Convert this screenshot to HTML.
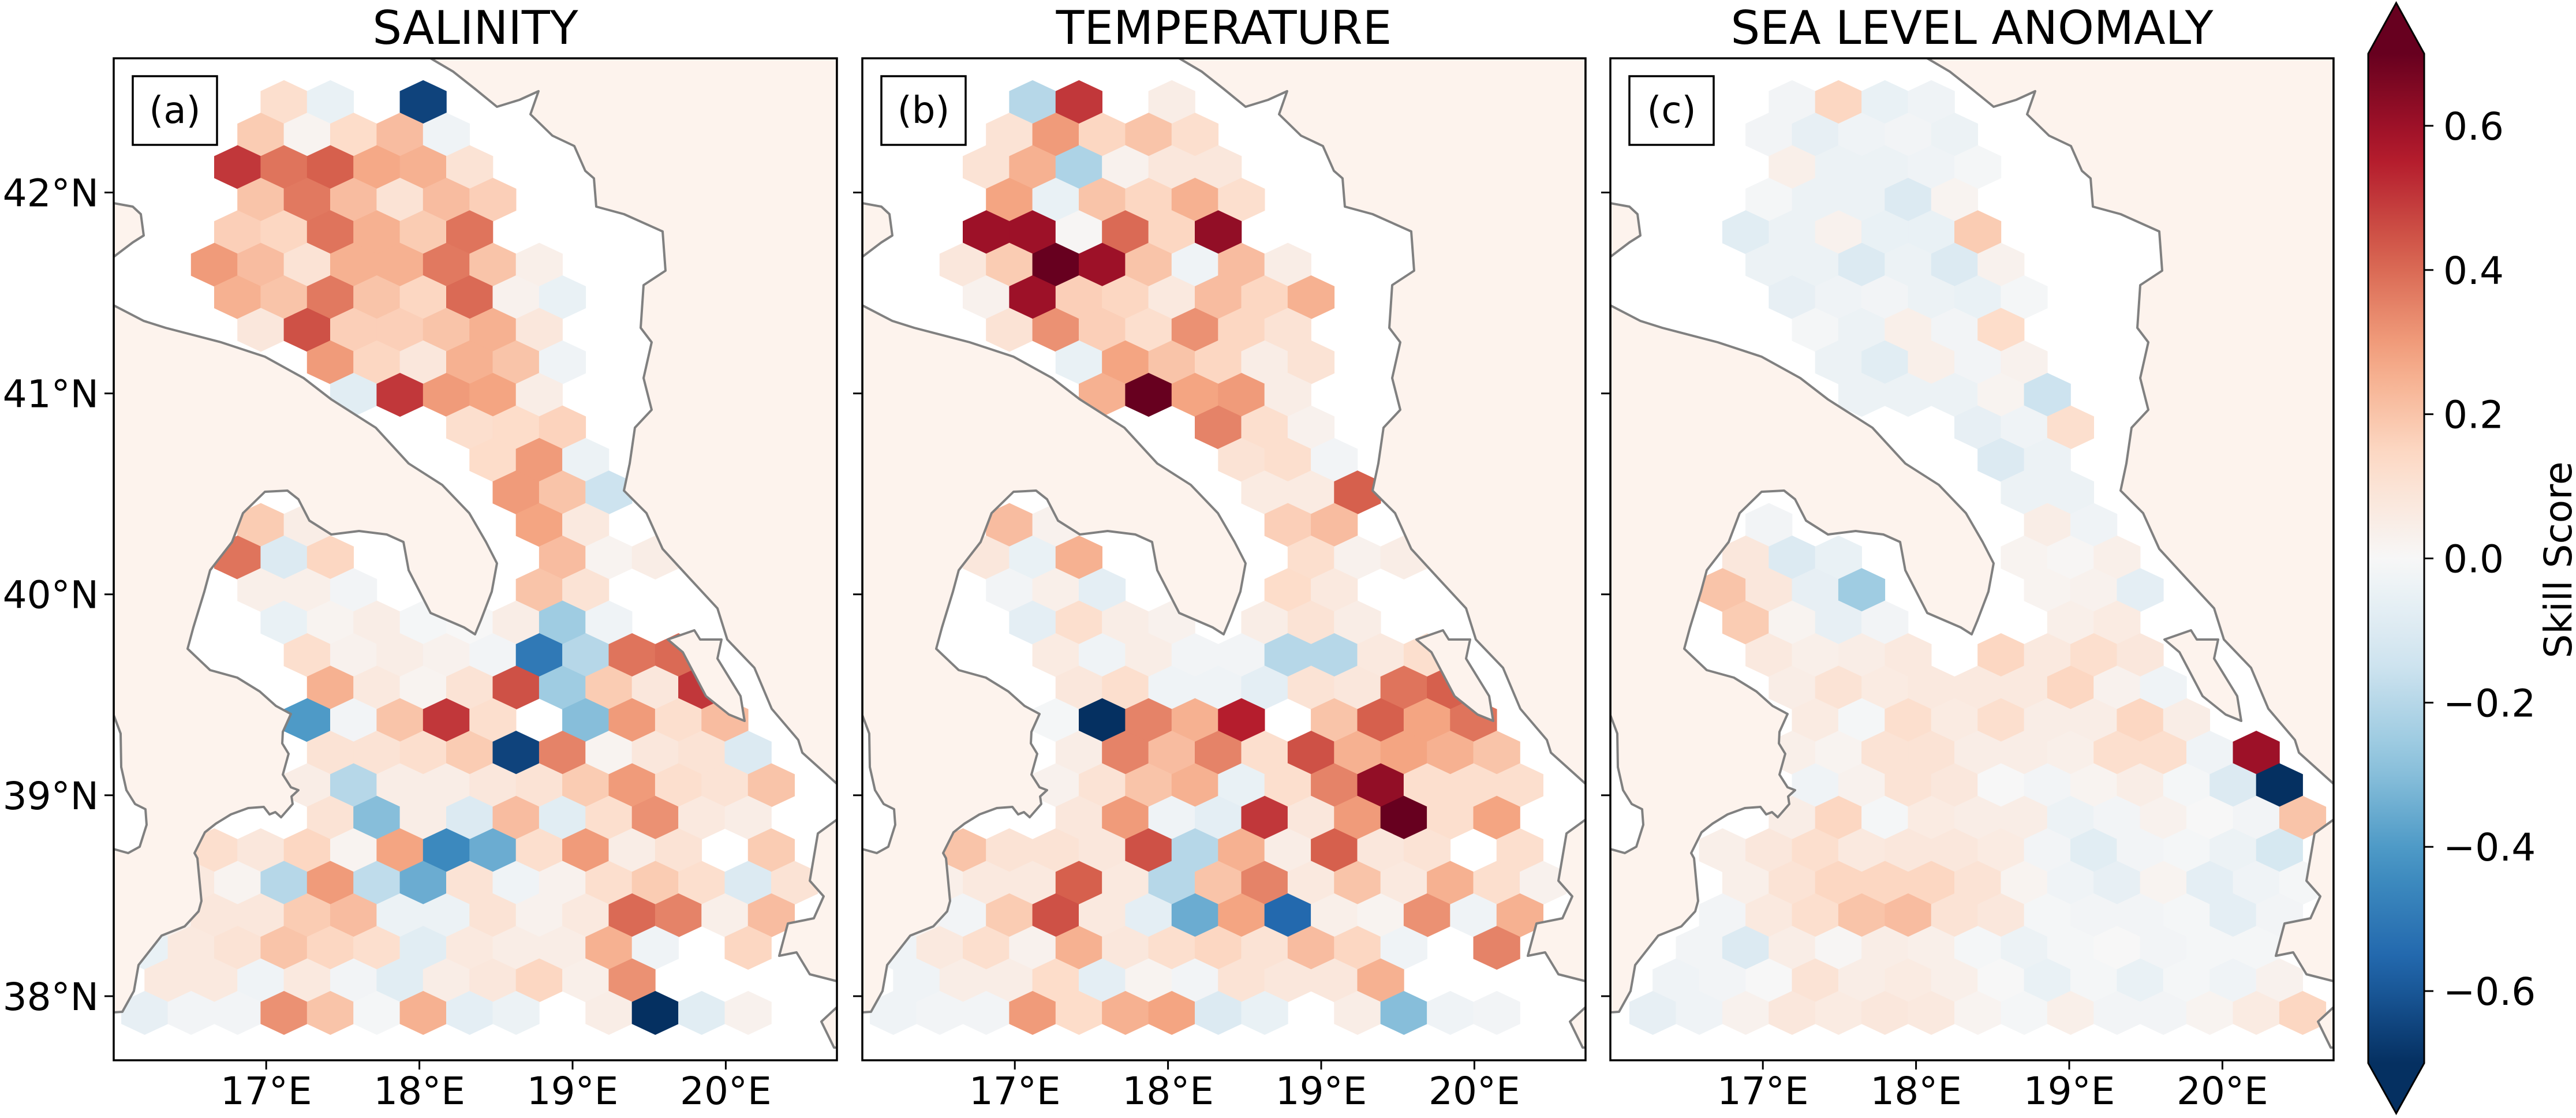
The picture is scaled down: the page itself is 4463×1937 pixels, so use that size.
<!DOCTYPE html>
<html><head><meta charset="utf-8">
<style>
html,body{margin:0;padding:0;background:#fff;}
svg{display:block;font-family:"DejaVu Sans","Liberation Sans",sans-serif;}
</style></head>
<body>
<svg id="chart" width="4463" height="1937" viewBox="0 0 4463 1937" xmlns="http://www.w3.org/2000/svg"></svg>
<script>
const _ = null;
// ---------- data ----------
const panelTitles = ["SALINITY", "TEMPERATURE", "SEA LEVEL ANOMALY"];
const panelLetters = ["(a)", "(b)", "(c)"];
const lonTicks = [17, 18, 19, 20];
const lonTickLabels = ["17°E", "18°E", "19°E", "20°E"];
const latTicks = [42, 41, 40, 39, 38];
const latTickLabels = ["42°N", "41°N", "40°N", "39°N", "38°N"];
const cbarTicks = [0.6, 0.4, 0.2, 0.0, -0.2, -0.4, -0.6];
const cbarTickLabels = ["0.6", "0.4", "0.2", "0.0", "\u22120.2", "\u22120.4", "\u22120.6"];
const gridLon0 = [16.207, 16.207, 16.282];
const gridLat0 = 42.450;
const gridDLon = 0.303;
const gridDLat = 0.1619;

const salinity = [
[_,_,_,.12,-.05,_,-.65,_,_,_,_,_,_,_,_],
[_,_,_,.18,.02,.13,.22,-.03,_,_,_,_,_,_,_],
[_,_,.5,.38,.42,.27,.25,.1,_,_,_,_,_,_,_],
[_,_,_,.2,.37,.22,.1,.22,.17,_,_,_,_,_,_],
[_,_,.17,.15,.38,.25,.18,.38,_,_,_,_,_,_,_],
[_,_,.3,.22,.1,.25,.25,.37,.2,.04,_,_,_,_,_],
[_,_,.25,.2,.37,.2,.15,.4,.03,-.05,_,_,_,_,_],
[_,_,_,.08,.45,.17,.17,.2,.25,.08,_,_,_,_,_],
[_,_,_,_,.3,.15,.08,.25,.2,-.03,_,_,_,_,_],
[_,_,_,_,_,-.08,.5,.3,.28,.05,_,_,_,_,_],
[_,_,_,_,_,_,_,.12,.13,.16,_,_,_,_,_],
[_,_,_,_,_,_,_,_,.13,.3,-.04,_,_,_,_],
[_,_,_,_,_,_,_,_,.3,.2,-.15,_,_,_,_],
[_,_,_,.18,.05,_,_,_,_,.28,.07,_,_,_,_],
[_,_,.38,-.1,.15,_,_,_,_,.22,.02,.05,_,_,_],
[_,_,_,.04,.04,-.02,_,_,_,.2,.1,_,_,_,_],
[_,_,_,-.05,.02,.05,-.01,0,.05,-.25,-.03,_,_,_,_],
[_,_,_,_,.12,.03,.05,.03,-.02,-.5,-.2,.38,.4,_,_],
[_,_,_,_,.25,.07,.02,.1,.45,-.25,.18,.08,.5,_,_],
[_,_,_,_,-.4,-.02,.2,.5,.12,_,-.3,.3,.12,.22,_],
[_,_,_,_,.1,.1,.12,.18,-.65,.35,.02,.08,.1,-.1,_],
[_,_,_,_,.05,-.2,.05,.05,.08,.1,.18,.3,.12,.1,.2],
[_,_,_,_,.1,-.3,.05,-.1,.22,-.08,.12,.32,.07,.05,_],
[_,_,.12,.08,.15,.02,.28,-.45,-.35,.12,.3,.05,.1,_,.18],
[_,.07,.02,-.2,.3,-.18,-.35,.1,-.03,.03,.12,.18,.12,-.1,.1],
[_,.03,.08,.08,.18,.22,-.04,-.04,.1,.03,.07,.4,.35,.04,.22],
[-.05,.07,.1,.2,.15,.12,-.08,.07,.05,.05,.25,-.03,_,.15,_],
[_,.07,.07,-.03,.07,-.02,-.08,.05,.08,.15,.04,.32,_,_,_],
[-.06,-.02,-.02,.32,.2,-.01,.25,-.07,-.04,_,.05,-.7,-.08,.03,_]
];
const temperature = [
[_,_,_,-.2,.5,_,.05,_,_,_,_,_,_,_,_],
[_,_,_,.1,.3,.15,.2,.12,_,_,_,_,_,_,_],
[_,_,.1,.25,-.22,.03,.08,.08,_,_,_,_,_,_,_],
[_,_,_,.28,-.05,.2,.15,.25,.12,_,_,_,_,_,_],
[_,_,.6,.6,.01,.4,.15,.62,_,_,_,_,_,_,_],
[_,_,.08,.18,.7,.6,.2,-.03,.22,.05,_,_,_,_,_],
[_,_,.03,.6,.17,.15,.07,.22,.15,.25,_,_,_,_,_],
[_,_,_,.1,.32,.17,.12,.32,.15,.1,_,_,_,_,_],
[_,_,_,_,-.05,.28,.2,.15,.05,.1,_,_,_,_,_],
[_,_,_,_,_,.25,.72,.28,.3,.05,_,_,_,_,_],
[_,_,_,_,_,_,_,.35,.12,.03,_,_,_,_,_],
[_,_,_,_,_,_,_,_,.1,.12,-.02,_,_,_,_],
[_,_,_,_,_,_,_,_,.06,.06,.42,_,_,_,_],
[_,_,_,.22,.03,_,_,_,_,.17,.22,_,_,_,_],
[_,_,.08,-.05,.25,_,_,_,_,.12,.03,.05,_,_,_],
[_,_,_,-.02,.04,-.07,_,_,_,.13,.07,_,_,_,_],
[_,_,_,-.07,.12,.05,.03,_,.05,.1,.05,_,_,_,_],
[_,_,_,_,.06,-.03,.05,-.02,-.02,-.2,-.2,.07,.12,_,_],
[_,_,_,_,.08,.12,-.03,-.03,-.07,.1,.08,.38,.42,_,_],
[_,_,_,_,-.01,-.7,.35,.25,.55,_,.2,.42,.28,.38,_],
[_,_,_,_,.05,.35,.22,.35,.12,.45,.25,.28,.25,.2,_],
[_,_,_,_,.03,.1,.2,.25,-.05,.12,.35,.62,.12,.12,.12],
[_,_,_,_,.08,.3,-.03,-.07,.5,.08,.3,.7,.12,.28,_],
[_,_,.2,.1,.1,.08,.45,-.2,.25,.05,.42,.08,.1,_,.12],
[_,.04,.07,.07,.42,.07,-.2,.2,.35,.07,.2,.07,.25,.12,.03],
[_,.02,-.02,.18,.45,.07,-.07,-.35,.28,-.55,.04,.02,.32,-.03,.25],
[-.03,.07,.12,.03,.25,.08,.12,.15,.1,.22,.15,-.03,_,.35,_],
[_,-.03,.05,.05,.13,-.07,.02,-.02,.1,.08,.08,.25,_,_,_],
[-.03,-.02,-.02,.3,.13,.25,.28,-.1,-.05,_,.05,-.3,-.03,-.02,_]
];
const seaLevel = [
[_,_,_,-.02,.15,-.05,-.03,_,_,_,_,_,_,_,_],
[_,_,_,-.02,-.06,-.03,-.02,-.04,_,_,_,_,_,_,_],
[_,_,_,.04,-.04,-.04,-.03,-.01,_,_,_,_,_,_,_],
[_,_,_,-.01,-.04,-.04,-.1,.02,_,_,_,_,_,_,_],
[_,_,-.08,-.04,.03,-.05,-.05,.18,_,_,_,_,_,_,_],
[_,_,_,-.04,-.04,-.1,-.04,-.1,.03,_,_,_,_,_,_],
[_,_,_,-.06,-.03,-.02,-.04,-.05,-.01,_,_,_,_,_,_],
[_,_,_,_,-.01,-.04,.04,-.02,.13,_,_,_,_,_,_],
[_,_,_,_,-.04,-.08,.04,-.02,.03,_,_,_,_,_,_],
[_,_,_,_,_,-.04,-.04,-.04,.02,-.15,_,_,_,_,_],
[_,_,_,_,_,_,_,-.06,-.03,.12,_,_,_,_,_],
[_,_,_,_,_,_,_,_,-.1,-.04,_,_,_,_,_],
[_,_,_,_,_,_,_,_,-.04,-.04,_,_,_,_,_],
[_,_,_,-.02,_,_,_,_,_,.05,-.03,_,_,_,_],
[_,_,.08,-.1,-.05,_,_,_,.02,.01,.04,_,_,_,_],
[_,_,.2,.08,-.06,-.25,_,_,_,.02,.03,-.07,_,_,_],
[_,_,.18,.02,-.06,-.02,_,_,_,.04,.06,_,_,_,_],
[_,_,_,.07,.04,.05,.07,_,.15,.07,.12,.08,_,_,_],
[_,_,_,.05,.1,.06,.07,.07,.07,.15,.03,-.03,_,_,_],
[_,_,_,_,.06,-.01,.12,.06,.12,.05,.05,.15,.05,_,_],
[_,_,_,.04,.02,.1,.1,.05,.05,.04,.12,.12,-.03,.6,_],
[_,_,_,_,-.03,.03,.1,.08,0,-.02,.02,.05,-.01,-.1,-.7],
[_,_,_,.05,.15,-.01,.06,.05,.05,-.04,-.02,.03,0,-.02,.2],
[_,_,.04,.08,.12,.07,.08,.08,.06,-.02,-.08,-.02,-.01,-.04,-.12],
[_,_,.04,.1,.15,.15,.15,.1,.02,-.03,-.06,.02,-.07,-.03,-.01],
[_,_,-.02,.07,.12,.2,.22,.1,.08,-.01,-.02,-.02,-.01,-.07,-.02],
[_,-.02,-.1,.05,.01,.05,.04,-.01,-.04,-.01,0,-.02,-.01,-.01,_],
[_,-.03,-.02,0,.1,.05,.06,.04,0,-.05,-.01,-.05,-.01,-.03,.03],
[-.06,-.03,.03,.08,.06,.08,.07,.02,-.01,.04,-.02,-.02,.02,.06,.15]
];
const panelData = [salinity, temperature, seaLevel];

// ---------- geometry ----------
const NS = "http://www.w3.org/2000/svg";
const svg = document.getElementById("chart");
const panelLeft = [197, 1494, 2790];
const axTop = 101, axW = 1253, axH = 1736;
const lonMin = 16.0045, lonPx = 265.4, latMax = 42.668, latPx = 348.1;
const vmin = -0.7, vmax = 0.7;
function xScale(p, lon){ return panelLeft[p] + (lon - lonMin) * lonPx; }
function yScale(lat){ return axTop + (latMax - lat) * latPx; }

const rdbu = ["#053061","#2166ac","#4393c3","#92c5de","#d1e5f0","#f7f7f7","#fddbc7","#f4a582","#d6604d","#b2182b","#67001f"];
function hex2rgb(h){ return [parseInt(h.substr(1,2),16),parseInt(h.substr(3,2),16),parseInt(h.substr(5,2),16)]; }
function cmap(v){
  let t = (v - vmin) / (vmax - vmin); t = Math.max(0, Math.min(1, t));
  const s = t * (rdbu.length - 1); const i = Math.min(Math.floor(s), rdbu.length - 2); const f = s - i;
  const a = hex2rgb(rdbu[i]), b = hex2rgb(rdbu[i+1]);
  return "rgb(" + a.map((c,k)=>Math.round(c + (b[k]-c)*f)).join(",") + ")";
}
function mk(tag, attrs, parent){
  const e = document.createElementNS(NS, tag);
  for (const k in attrs) e.setAttribute(k, attrs[k]);
  (parent || svg).appendChild(e); return e;
}

// coastline (geography background, panel-a pixel frame)
const landPolys = [
 [[197,529],[249,556],[287,568],[383,593],[459,618],[526,655],[574,692],[651,741],[708,803],[766,840],[813,889],[842,939],[861,976],[852,1025],[833,1075],[823,1099],[804,1087],[746,1062],[708,988],[699,939],[670,926],[622,920],[574,926],[536,902],[517,865],[498,850],[459,852],[421,889],[402,939],[364,988],[354,1025],[335,1087],[325,1124],[364,1161],[411,1174],[450,1198],[478,1223],[504,1237],[490,1268],[489,1288],[500,1306],[490,1342],[504,1364],[517,1369],[505,1380],[507,1393],[487,1416],[477,1407],[467,1411],[457,1398],[430,1400],[400,1411],[374,1427],[355,1442],[337,1478],[342,1487],[349,1561],[344,1579],[320,1605],[280,1621],[240,1672],[232,1717],[212,1753],[197,1754],[197,1471],[222,1478],[242,1467],[254,1429],[252,1402],[234,1393],[219,1369],[210,1329],[209,1271],[197,1239]],
 [[197,352],[230,358],[244,371],[249,408],[230,420],[197,445]],
 [[746,101],[785,124],[823,154],[861,185],[900,173],[933,158],[919,198],[957,235],[995,253],[1014,296],[1029,309],[1033,358],[1081,371],[1148,401],[1153,469],[1115,494],[1110,568],[1129,593],[1115,655],[1129,710],[1100,741],[1091,803],[1081,850],[1120,889],[1148,951],[1193,1000],[1243,1054],[1260,1108],[1307,1157],[1337,1228],[1383,1282],[1390,1304],[1450,1358],[1450,101]],
 [[1157,1108],[1203,1092],[1213,1108],[1250,1108],[1243,1141],[1283,1206],[1290,1249],[1263,1238],[1223,1206],[1183,1130]],
 [[1450,1420],[1417,1444],[1403,1526],[1427,1553],[1410,1591],[1365,1600],[1350,1656],[1380,1650],[1403,1688],[1450,1700]],
 [[1450,1745],[1423,1770],[1445,1815],[1450,1815]]
];

const defs = mk("defs", {});
for (let p = 0; p < 3; p++){
  const cp = mk("clipPath", {id: "clip" + p}, defs);
  mk("rect", {x: panelLeft[p], y: axTop, width: axW, height: axH}, cp);
}

for (let p = 0; p < 3; p++){
  const L = panelLeft[p];
  const g = mk("g", {"clip-path": "url(#clip" + p + ")"});
  
  
  const bg = mk("rect", {x: L, y: axTop, width: axW, height: axH, fill: "#ffffff"}, g);
  
  
  // hexbins
  const data = panelData[p];
  const hw = gridDLon / 2, tip = gridDLat * 2 / 3, side = gridDLat / 3;
  for (let j = 0; j < data.length; j++){
    for (let c = 0; c < data[j].length; c++){
      const v = data[j][c]; if (v === null) continue;
      const lon = gridLon0[p] + (c - (j % 2) * 0.5) * gridDLon;
      const lat = gridLat0 - j * gridDLat;
      const pts = [[lon+hw,lat-side],[lon+hw,lat+side],[lon,lat+tip],[lon-hw,lat+side],[lon-hw,lat-side],[lon,lat-tip]]
        .map(q => xScale(p,q[0]).toFixed(1) + "," + yScale(q[1]).toFixed(1)).join(" ");
      const h = mk("polygon", {points: pts, fill: cmap(v), stroke: cmap(v), "stroke-width": 0.8}, g);
      
      
    }
  }
  // land
  const dx = L - 197;
  landPolys.forEach(poly => {
    const lp = mk("polygon", {points: poly.map(q => (q[0]+dx) + "," + q[1]).join(" "), fill: "#fdf3ed", stroke: "#808080", "stroke-width": 4, "stroke-linejoin": "round"}, g);
    
    
  });
  // frame
  const fr = mk("rect", {x: L, y: axTop, width: axW, height: axH, fill: "none", stroke: "#000", "stroke-width": 3.5});
  
  
  // title
  const t = mk("text", {x: L + axW/2, y: 76, "font-size": 80, "text-anchor": "middle", fill: "#000"});
  t.textContent = panelTitles[p];
  
  
  // letter box
  const lb = mk("rect", {x: L + 33, y: 132, width: 146, height: 119, fill: "#fff", stroke: "#000", "stroke-width": 3.5});
  
  
  const lt = mk("text", {x: L + 106, y: 213, "font-size": 64, "text-anchor": "middle", fill: "#000"});
  lt.textContent = panelLetters[p];
  
  
  // x ticks
  lonTicks.forEach((lon, i) => {
    const x = xScale(p, lon);
    const tk = mk("line", {x1: x, x2: x, y1: axTop+axH, y2: axTop+axH+16, stroke: "#000", "stroke-width": 3});
    
    
    const tl = mk("text", {x: x, y: 1913, "font-size": 66, "text-anchor": "middle", fill: "#000"});
    tl.textContent = lonTickLabels[i];
    
    
  });
  // y ticks
  latTicks.forEach((lat, i) => {
    const y = yScale(lat);
    const tk = mk("line", {x1: L-16, x2: L, y1: y, y2: y, stroke: "#000", "stroke-width": 3});
    
    
    if (p === 0){
      const tl = mk("text", {x: L-26, y: y + 24, "font-size": 66, "text-anchor": "end", fill: "#000"});
      tl.textContent = latTickLabels[i];
      
      
    }
  });
}

// ---------- colorbar ----------
const cbX = 4103, cbW = 97, cbTop = 93, cbBot = 1842;
function cbY(v){ return cbTop + (vmax - v) / (vmax - vmin) * (cbBot - cbTop); }
const grad = mk("linearGradient", {id: "cbgrad", x1: 0, y1: 0, x2: 0, y2: 1}, defs);
for (let k = 0; k <= 28; k++){
  const v = vmax - k * (vmax - vmin) / 28;
  mk("stop", {offset: (k/28).toFixed(4), "stop-color": cmap(v)}, grad);
}
const cbg = mk("g", {});


const cbr = mk("rect", {x: cbX, y: cbTop, width: cbW, height: cbBot-cbTop, fill: "url(#cbgrad)"}, cbg);


const tri1 = mk("polygon", {points: `${cbX},${cbTop} ${cbX+cbW},${cbTop} ${cbX+cbW/2},5`, fill: cmap(vmax)}, cbg);


const tri2 = mk("polygon", {points: `${cbX},${cbBot} ${cbX+cbW},${cbBot} ${cbX+cbW/2},1929`, fill: cmap(vmin)}, cbg);


const cbo = mk("polygon", {points: `${cbX},${cbTop} ${cbX+cbW/2},5 ${cbX+cbW},${cbTop} ${cbX+cbW},${cbBot} ${cbX+cbW/2},1929 ${cbX},${cbBot}`, fill: "none", stroke: "#000", "stroke-width": 3}, cbg);


cbarTicks.forEach((v, i) => {
  const y = cbY(v);
  const tk = mk("line", {x1: cbX+cbW, x2: cbX+cbW+16, y1: y, y2: y, stroke: "#000", "stroke-width": 3}, cbg);
  
  
  const tl = mk("text", {x: 4233, y: y + 24, "font-size": 66, fill: "#000"}, cbg);
  tl.textContent = cbarTickLabels[i];
  
  
});
const cbl = mk("text", {x: 4455, y: 970, "font-size": 66, "text-anchor": "middle", fill: "#000", transform: "rotate(-90 4455 970)"}, cbg);
cbl.textContent = "Skill Score";


</script>
</body></html>
